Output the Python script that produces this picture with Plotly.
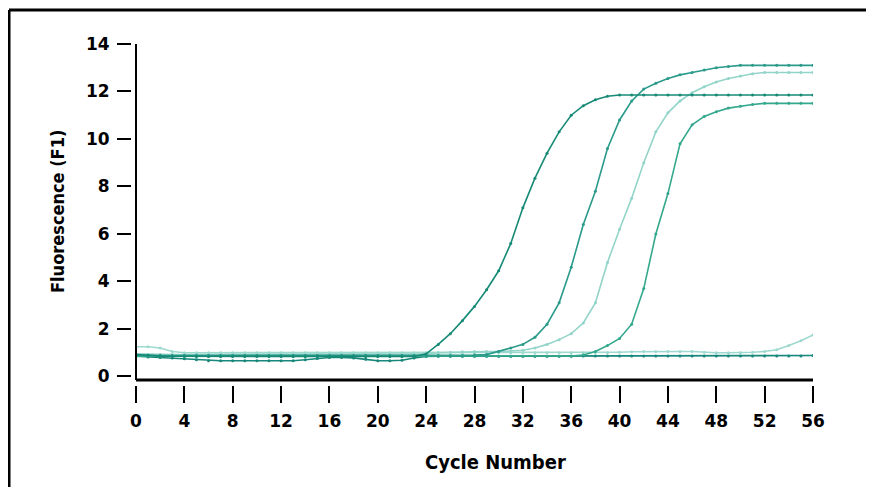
import plotly.graph_objects as go

cycles = list(range(0, 57))

curve_a = [0.92, 0.88, 0.86, 0.85, 0.85, 0.84, 0.84, 0.84, 0.84, 0.84, 0.84, 0.84,
           0.84, 0.84, 0.84, 0.84, 0.84, 0.84, 0.84, 0.84, 0.84, 0.84, 0.84, 0.84,
           0.95, 1.35, 1.8, 2.35, 2.95, 3.65, 4.45, 5.6, 7.1, 8.35, 9.4, 10.3, 11.0,
           11.4, 11.65, 11.8, 11.85, 11.85, 11.85, 11.85, 11.85, 11.85, 11.85, 11.85,
           11.85, 11.85, 11.85, 11.85, 11.85, 11.85, 11.85, 11.85, 11.85]

curve_b = [0.9, 0.88, 0.88, 0.88, 0.88, 0.88, 0.88, 0.88, 0.88, 0.88, 0.88, 0.88,
           0.88, 0.88, 0.88, 0.88, 0.88, 0.88, 0.88, 0.88, 0.88, 0.88, 0.88, 0.88,
           0.88, 0.88, 0.88, 0.88, 0.9, 0.92, 1.05, 1.2, 1.35, 1.65, 2.2, 3.1, 4.6,
           6.4, 7.8, 9.6, 10.8, 11.6, 12.1, 12.35, 12.55, 12.7, 12.8, 12.9, 13.0,
           13.05, 13.1, 13.1, 13.1, 13.1, 13.1, 13.1, 13.1]

curve_c = [0.95, 0.93, 0.92, 0.92, 0.92, 0.92, 0.92, 0.92, 0.92, 0.92, 0.92, 0.92,
           0.92, 0.92, 0.92, 0.92, 0.92, 0.92, 0.92, 0.92, 0.92, 0.92, 0.92, 0.92,
           0.95, 1.0, 1.02, 1.04, 1.05, 1.05, 1.05, 1.06, 1.1, 1.2, 1.35, 1.55, 1.8,
           2.25, 3.1, 4.8, 6.2, 7.5, 9.0, 10.3, 11.1, 11.6, 11.95, 12.2, 12.4, 12.55,
           12.65, 12.75, 12.8, 12.8, 12.8, 12.8, 12.8]

curve_d = [0.85, 0.85, 0.85, 0.85, 0.85, 0.85, 0.85, 0.85, 0.85, 0.85, 0.85, 0.85,
           0.85, 0.85, 0.85, 0.85, 0.85, 0.85, 0.85, 0.85, 0.85, 0.85, 0.85, 0.85,
           0.85, 0.85, 0.85, 0.85, 0.85, 0.85, 0.85, 0.85, 0.85, 0.85, 0.85, 0.85,
           0.86, 0.9, 1.05, 1.3, 1.6, 2.2, 3.7, 6.0, 7.7, 9.8, 10.6, 10.95, 11.15,
           11.3, 11.38, 11.45, 11.5, 11.5, 11.5, 11.5, 11.5]

curve_e = [1.25, 1.25, 1.2, 1.05, 1.0, 1.0, 1.0, 1.0, 1.0, 1.0, 1.0, 1.0,
           1.0, 1.0, 1.0, 1.0, 1.0, 1.0, 1.0, 1.0, 1.0, 1.0, 1.0, 1.0,
           1.0, 1.0, 1.0, 1.0, 1.0, 1.0, 1.0, 1.0, 1.0, 1.0, 1.0, 1.0, 1.0,
           1.0, 1.0, 1.0, 1.02, 1.04, 1.05, 1.05, 1.05, 1.05, 1.05, 1.02, 1.0,
           1.0, 1.0, 1.02, 1.05, 1.12, 1.3, 1.5, 1.75]

curve_f = [0.85, 0.82, 0.8, 0.78, 0.75, 0.7, 0.66, 0.66, 0.66, 0.66, 0.66, 0.66,
           0.66, 0.66, 0.7, 0.76, 0.8, 0.8, 0.78, 0.72, 0.66, 0.66, 0.68, 0.78,
           0.84, 0.85, 0.85, 0.85, 0.85, 0.85, 0.85, 0.85, 0.85, 0.85, 0.85, 0.85,
           0.85, 0.86, 0.86, 0.86, 0.86, 0.86, 0.86, 0.86, 0.86, 0.86, 0.86, 0.86,
           0.86, 0.86, 0.86, 0.86, 0.86, 0.86, 0.86, 0.86, 0.88]

x_ticks = list(range(0, 57, 4))
y_ticks = list(range(0, 15, 2))

series = [
    ("E", curve_e, "#9ed9cf"),
    ("C", curve_c, "#93d4c9"),
    ("F", curve_f, "#17877b"),
    ("D", curve_d, "#33a88c"),
    ("B", curve_b, "#2a9a8a"),
    ("A", curve_a, "#168a76"),
]

fig = go.Figure()
for name, vals, col in series:
    fig.add_trace(go.Scatter(
        x=cycles, y=vals, name=name, mode="lines+markers",
        line=dict(color=col, width=1.6),
        marker=dict(color=col, size=3),
        showlegend=False,
    ))

TICKFONT = "DejaVu Sans, sans-serif"
TITLEFONT = "DejaVu Sans Condensed, DejaVu Sans, sans-serif"

frame_left = (9 - 120) / 693
frame_top = (397 - 10) / 353

fig.update_layout(
    width=874, height=487,
    margin=dict(l=112, r=69, t=36, b=98),
    paper_bgcolor="white", plot_bgcolor="white",
    xaxis=dict(
        domain=[16 / 693, 1], range=[0, 56], anchor="free", position=12 / 353,
        tickvals=x_ticks, ticks="outside", ticklen=17, tickwidth=2, tickcolor="black",
        showline=False, showgrid=False, zeroline=False,
        tickfont=dict(family=TICKFONT, size=17, color="black", weight="bold"),
        ticklabelstandoff=4,
    ),
    yaxis=dict(
        domain=[17 / 353, 1], range=[-0.15, 14], anchor="free", position=11 / 693,
        tickvals=y_ticks, ticks="outside", ticklen=14, tickwidth=2, tickcolor="black",
        showline=False, showgrid=False, zeroline=False,
        tickfont=dict(family=TICKFONT, size=17, color="black", weight="bold"),
        ticklabelstandoff=4,
    ),
    shapes=[
        dict(type="line", xref="x domain", yref="y domain", x0=0, x1=0, y0=0, y1=1,
             line=dict(color="black", width=2)),
        dict(type="line", xref="x domain", yref="y domain", x0=0, x1=1, y0=0, y1=0,
             line=dict(color="black", width=3)),
        dict(type="line", xref="paper", yref="paper",
             x0=frame_left, x1=1.4, y0=frame_top, y1=frame_top,
             line=dict(color="black", width=3)),
        dict(type="line", xref="paper", yref="paper",
             x0=frame_left, x1=frame_left, y0=-0.6, y1=frame_top,
             line=dict(color="black", width=3)),
    ],
    annotations=[
        dict(text="Cycle Number", xref="paper", yref="paper",
             x=(495 - 120) / 693, y=(397 - 462) / 353, showarrow=False,
             xanchor="center", yanchor="middle",
             font=dict(family=TITLEFONT, size=20, color="black", weight="bold")),
        dict(text="Fluorescence (F1)", xref="paper", yref="paper",
             x=(57 - 120) / 693, y=(397 - 212) / 353, showarrow=False, textangle=-90,
             xanchor="center", yanchor="middle",
             font=dict(family=TITLEFONT, size=18, color="black", weight="bold")),
    ],
)

fig.write_html("out.html")
